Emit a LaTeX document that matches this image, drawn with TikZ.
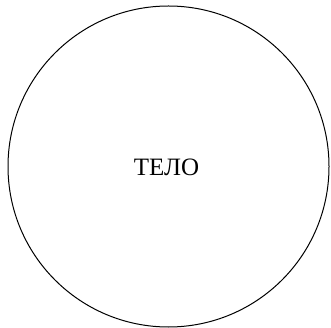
\documentclass[tikz,border=0pt]{standalone}
\usepackage{fontspec}
\setmainfont{Liberation Serif}
\usepackage{tikz}

\begin{document}
\begin{tikzpicture}[x=1pt, y=1pt,
    body/.style={draw, circle, minimum size=321pt, inner sep=0pt,
                 line width=1pt},
    label/.style={font=\fontsize{25}{28}\selectfont}]
  \useasboundingbox (0,0) rectangle (331,-328);
  \node[body]  (tel) at (168.5,-166.5) {};
  \node[label] (txt) at (166.5,-167) {ТЕЛО};
\end{tikzpicture}
\end{document}
